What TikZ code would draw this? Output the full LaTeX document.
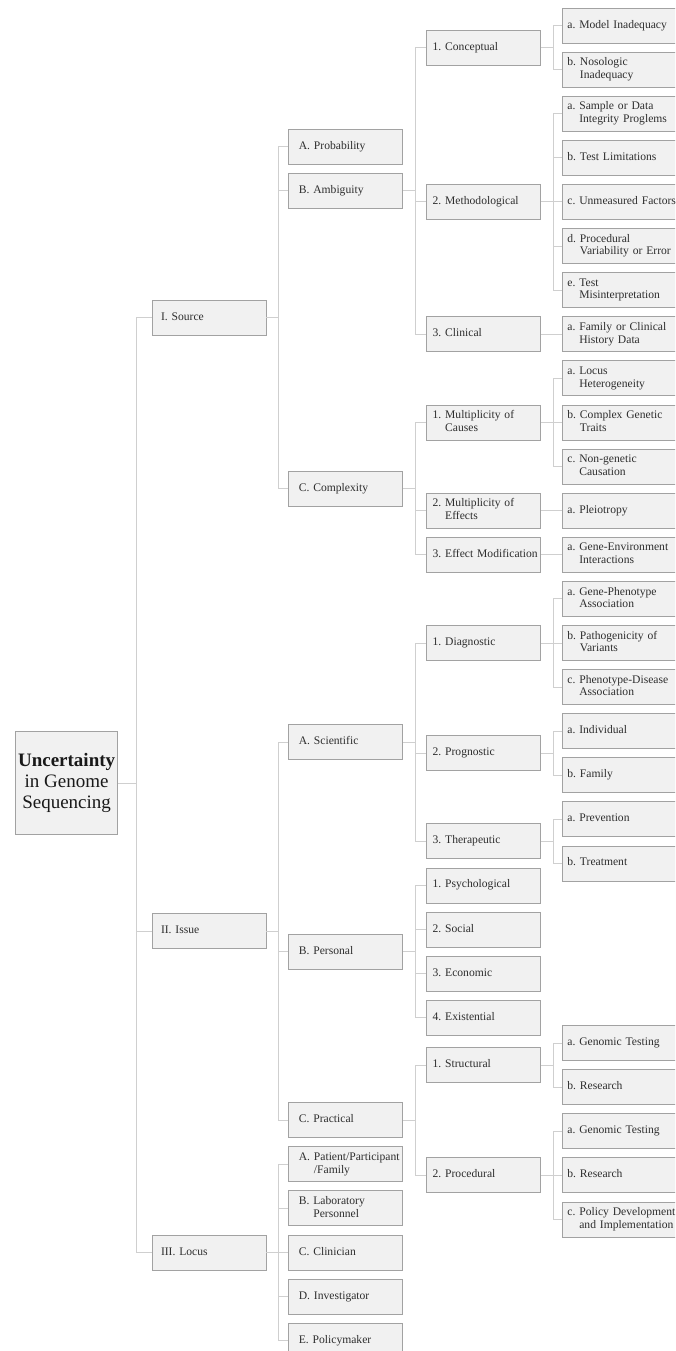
\documentclass[tikz,border=0pt]{standalone}
\usepackage{fontspec}
\setmainfont{Liberation Serif}
\usetikzlibrary{positioning,calc}

\definecolor{boxfill}{HTML}{F1F1F1}
\definecolor{boxline}{HTML}{A2A2A2}
\definecolor{linkline}{HTML}{CFCFCF}
\definecolor{ink}{HTML}{2E2E2E}

\newcommand{\oneline}[2]{\begin{tabular}{@{}l@{~}l@{}}#1&#2\end{tabular}}
\newcommand{\twoline}[3]{\begin{tabular}{@{}l@{~}l@{}}#1&#2\\&#3\end{tabular}}

\begin{document}
\begin{tikzpicture}[x=1pt,y=-1pt,node distance=8.3pt,
    box/.style={draw=boxline,line width=0.8pt,fill=boxfill,text=ink,
                minimum height=35pt,inner ysep=2pt,align=left,
                font=\fontsize{11.6}{12.6}\selectfont},
    rootbox/.style={box,anchor=east,minimum width=102pt,minimum height=103pt,
                inner sep=1pt,align=center,text=black!90,
                font=\fontsize{19}{21}\selectfont},
    lvlone/.style={box,anchor=east,inner xsep=9pt,text width=96pt},
    lvltwo/.style={box,anchor=east,inner xsep=10pt,text width=94pt},
    lvlthree/.style={box,anchor=east,inner xsep=6pt,text width=102pt},
    leaf/.style={box,anchor=west,inner xsep=5pt,text width=106pt},
    link/.style={draw=linkline,line width=0.8pt},
    elbow/.style={to path={(\tikztostart.east) -- ++(#1,0) |- (\tikztotarget.west)}},
    elbow/.default=12]

  \useasboundingbox (0,0) rectangle (675,1351);
  \clip (0,0) rectangle (675,1351);

  % leaves, first column
  \node[leaf] (ma) at (562,25.5) {\oneline{a.}{Model Inadequacy}};
  \node[leaf] (mb) [below=of ma] {\twoline{b.}{Nosologic}{Inadequacy}};
  \node[leaf] (da) [below=of mb] {\twoline{a.}{Sample or Data}{Integrity Proglems}};
  \node[leaf] (db) [below=of da] {\oneline{b.}{Test Limitations}};
  \node[leaf] (dc) [below=of db] {\oneline{c.}{Unmeasured Factors}};
  \node[leaf] (dd) [below=of dc] {\twoline{d.}{Procedural}{Variability or Error}};
  \node[leaf] (de) [below=of dd] {\twoline{e.}{Test}{Misinterpretation}};
  \node[leaf] (ca) [below=of de] {\twoline{a.}{Family or Clinical}{History Data}};
  \node[leaf] (xa) [below=of ca] {\twoline{a.}{Locus}{Heterogeneity}};
  \node[leaf] (xb) [below=of xa] {\twoline{b.}{Complex Genetic}{Traits}};
  \node[leaf] (xc) [below=of xb] {\twoline{c.}{Non-genetic}{Causation}};
  \node[leaf] (ea) [below=of xc] {\oneline{a.}{Pleiotropy}};
  \node[leaf] (ga) [below=of ea] {\twoline{a.}{Gene-Environment}{Interactions}};
  \node[leaf] (ja) [below=of ga] {\twoline{a.}{Gene-Phenotype}{Association}};
  \node[leaf] (jb) [below=of ja] {\twoline{b.}{Pathogenicity of}{Variants}};
  \node[leaf] (jc) [below=of jb] {\twoline{c.}{Phenotype-Disease}{Association}};
  \node[leaf] (pa) [below=of jc] {\oneline{a.}{Individual}};
  \node[leaf] (pb) [below=of pa] {\oneline{b.}{Family}};
  \node[leaf] (ta) [below=of pb] {\oneline{a.}{Prevention}};
  \node[leaf] (tb) [below=of ta] {\oneline{b.}{Treatment}};

  \node[leaf] (sa) at (562,1043) {\oneline{a.}{Genomic Testing}};
  \node[leaf] (sb) [below=of sa] {\oneline{b.}{Research}};
  \node[leaf] (ra) [below=of sb] {\oneline{a.}{Genomic Testing}};
  \node[leaf] (rb) [below=of ra] {\oneline{b.}{Research}};
  \node[leaf] (rc) [below=of rb] {\twoline{c.}{Policy Development}{and Implementation}};

  % third level
  \node[lvlthree] (conc) at ($(ma.west)!.5!(mb.west)+(-21,0)$) {\oneline{1.}{Conceptual}};
  \node[lvlthree] (meth) at ($(dc.west)+(-21,0)$) {\oneline{2.}{Methodological}};
  \node[lvlthree] (clin) at ($(ca.west)+(-21,0)$) {\oneline{3.}{Clinical}};
  \node[lvlthree] (caus) at ($(xb.west)+(-21,0)$) {\twoline{1.}{Multiplicity of}{Causes}};
  \node[lvlthree] (effs) at ($(ea.west)+(-21,0)$) {\twoline{2.}{Multiplicity of}{Effects}};
  \node[lvlthree] (emod) at ($(ga.west)+(-21,0)$) {\oneline{3.}{Effect Modification}};
  \node[lvlthree] (diag) at ($(jb.west)+(-21,0)$) {\oneline{1.}{Diagnostic}};
  \node[lvlthree] (prog) at ($(pa.west)!.5!(pb.west)+(-21,0)$) {\oneline{2.}{Prognostic}};
  \node[lvlthree] (ther) at ($(ta.west)!.5!(tb.west)+(-21,0)$) {\oneline{3.}{Therapeutic}};
  \node[lvlthree] (psy) [below=of ther] {\oneline{1.}{Psychological}};
  \node[lvlthree] (soc) [below=of psy] {\oneline{2.}{Social}};
  \node[lvlthree] (eco) [below=of soc] {\oneline{3.}{Economic}};
  \node[lvlthree] (exi) [below=of eco] {\oneline{4.}{Existential}};
  \node[lvlthree] (stru) at ($(sa.west)!.5!(sb.west)+(-21,0)$) {\oneline{1.}{Structural}};
  \node[lvlthree] (proc) at ($(rb.west)+(-21,0)$) {\oneline{2.}{Procedural}};

  % second level
  \node[lvltwo] (amb) at ($(conc.west)!.5!(clin.west)+(-23,0)$) {\oneline{B.}{Ambiguity}};
  \node[lvltwo] (prob) [above=of amb] {\oneline{A.}{Probability}};
  \node[lvltwo] (cplx) at ($(caus.west)!.5!(emod.west)+(-23,0)$) {\oneline{C.}{Complexity}};
  \node[lvltwo] (sci) at ($(diag.west)!.5!(ther.west)+(-23,0)$) {\oneline{A.}{Scientific}};
  \node[lvltwo] (pers) at ($(psy.west)!.5!(exi.west)+(-23,0)$) {\oneline{B.}{Personal}};
  \node[lvltwo] (prac) at ($(stru.west)!.5!(proc.west)+(-23,0)$) {\oneline{C.}{Practical}};
  \node[lvltwo] (pat) [below=of prac] {\twoline{A.}{Patient/Participant}{/Family}};
  \node[lvltwo] (lab) [below=of pat] {\twoline{B.}{Laboratory}{Personnel}};
  \node[lvltwo] (cli) [below=of lab] {\oneline{C.}{Clinician}};
  \node[lvltwo] (inv) [below=of cli] {\oneline{D.}{Investigator}};
  \node[lvltwo] (pol) [below=of inv] {\oneline{E.}{Policymaker}};

  % first level
  \node[lvlone] (src) at ($(prob.west)!.5!(cplx.west)+(-22,0)$) {\oneline{I.}{Source}};
  \node[lvlone] (iss) at ($(sci.west)!.5!(prac.west)+(-22,0)$) {\oneline{II.}{Issue}};
  \node[lvlone] (loc) at ($(pat.west)!.5!(pol.west)+(-22,0)$) {\oneline{III.}{Locus}};

  \node[rootbox] (root) at (118,783) {\textbf{Uncertainty}\\in Genome\\Sequencing};

  \path[link] (root) edge[elbow=18] (src)
                     edge[elbow=18] (iss)
                     edge[elbow=18] (loc)
        (src) edge[elbow] (prob)
              edge[elbow] (amb)
              edge[elbow] (cplx)
        (iss) edge[elbow] (sci)
              edge[elbow] (pers)
              edge[elbow] (prac)
        (loc) edge[elbow] (pat)
              edge[elbow] (lab)
              edge[elbow] (cli)
              edge[elbow] (inv)
              edge[elbow] (pol)
        (amb) edge[elbow] (conc)
              edge[elbow] (meth)
              edge[elbow] (clin)
        (cplx) edge[elbow] (caus)
               edge[elbow] (effs)
               edge[elbow] (emod)
        (sci) edge[elbow] (diag)
              edge[elbow] (prog)
              edge[elbow] (ther)
        (pers) edge[elbow] (psy)
               edge[elbow] (soc)
               edge[elbow] (eco)
               edge[elbow] (exi)
        (prac) edge[elbow] (stru)
               edge[elbow] (proc)
        (conc) edge[elbow] (ma)
               edge[elbow] (mb)
        (meth) edge[elbow] (da)
               edge[elbow] (db)
               edge[elbow] (dc)
               edge[elbow] (dd)
               edge[elbow] (de)
        (clin) edge[elbow] (ca)
        (caus) edge[elbow] (xa)
               edge[elbow] (xb)
               edge[elbow] (xc)
        (effs) edge[elbow] (ea)
        (emod) edge[elbow] (ga)
        (diag) edge[elbow] (ja)
               edge[elbow] (jb)
               edge[elbow] (jc)
        (prog) edge[elbow] (pa)
               edge[elbow] (pb)
        (ther) edge[elbow] (ta)
               edge[elbow] (tb)
        (stru) edge[elbow] (sa)
               edge[elbow] (sb)
        (proc) edge[elbow] (ra)
               edge[elbow] (rb)
               edge[elbow] (rc);
\end{tikzpicture}
\end{document}
